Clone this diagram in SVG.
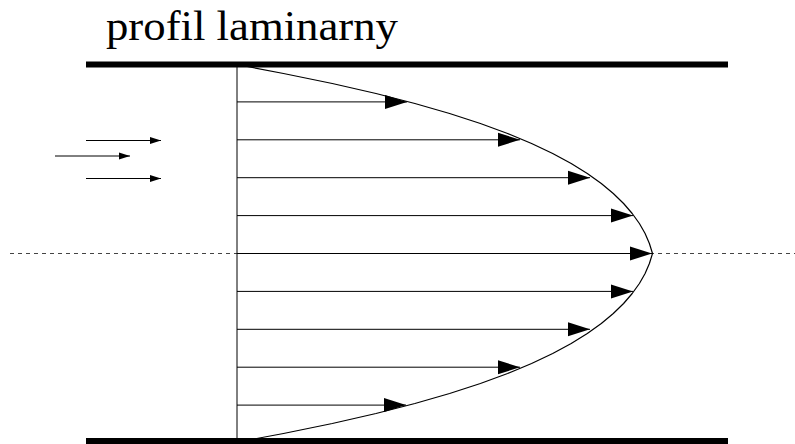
<svg xmlns="http://www.w3.org/2000/svg" width="795" height="444" viewBox="0 0 795 444">
<style>
.title{font-family:"Liberation Serif","DejaVu Serif",serif;font-size:43px;fill:#000}
.wall{fill:#000}
.vec{stroke:#000;stroke-width:1;fill:none;marker-end:url(#big)}
.inflow{stroke:#000;stroke-width:1;fill:none;marker-end:url(#small)}
.axis{stroke:#444;stroke-width:1;stroke-dasharray:4 4;fill:none}
.profile{stroke:#000;stroke-width:1.2;fill:none;stroke-linejoin:round}
.base{stroke:#000;stroke-width:1;fill:none}
</style>
<defs>
<marker id="big" markerUnits="userSpaceOnUse" markerWidth="22" markerHeight="14" refX="22" refY="7" orient="auto" overflow="visible">
<path d="M0,0 L22,7 L0,14 Z" fill="#000"/>
</marker>
<marker id="small" markerUnits="userSpaceOnUse" markerWidth="11" markerHeight="7" refX="11" refY="3.5" orient="auto" overflow="visible">
<path d="M0,0 L11,3.5 L0,7 Z" fill="#000"/>
</marker>
</defs>
<g id="title"><text class="title" x="106" y="40" textLength="292" lengthAdjust="spacingAndGlyphs">profil laminarny</text></g>
<g id="walls">
<rect class="wall" x="86" y="61.5" width="642" height="6"/>
<rect class="wall" x="86" y="438" width="642" height="6"/>
</g>
<g id="axis"><line class="axis" x1="10" y1="253.5" x2="795" y2="253.5"/></g>
<g id="inflow">
<line class="inflow" x1="86" y1="140.5" x2="161" y2="140.5"/>
<line class="inflow" x1="55" y1="156" x2="130" y2="156"/>
<line class="inflow" x1="86" y1="178.5" x2="161" y2="178.5"/>
</g>
<g id="profile-base"><line class="base" x1="237" y1="67" x2="237" y2="438"/></g>
<g id="profile-curve">
<path class="profile" d="M237,64.5 L283.5,73.5 L332.3,83.5 L376,93.5 L414.9,103.5 L449.6,113.5 L480.4,123.5 L507.6,133.5 L531.6,143.5 L552.7,153.5 L571.2,163.5 L587.3,173.5 L601.3,183.5 L613.3,193.5 L623.6,203.5 L632.2,213.5 L639.4,223.5 L645.1,233.5 L649.4,243.5 L652.5,253.5 L649.4,263.5 L645.1,273.5 L639.4,283.5 L632.2,293.5 L623.6,303.5 L613.3,313.5 L601.3,323.5 L587.3,333.5 L571.2,343.5 L552.7,353.5 L531.6,363.5 L507.6,373.5 L480.4,383.5 L449.6,393.5 L414.9,403.5 L376,413.5 L332.3,423.5 L283.5,433.5 L243.3,441"/>
</g>
<g id="connectors">
<line class="vec" x1="237" y1="101.9" x2="407" y2="101.9"/>
<line class="vec" x1="237" y1="139.8" x2="520" y2="139.8"/>
<line class="vec" x1="237" y1="177.7" x2="590" y2="177.7"/>
<line class="vec" x1="237" y1="215.6" x2="633" y2="215.6"/>
<line class="vec" x1="237" y1="253.5" x2="652" y2="253.5"/>
<line class="vec" x1="237" y1="291.4" x2="633" y2="291.4"/>
<line class="vec" x1="237" y1="329.3" x2="590" y2="329.3"/>
<line class="vec" x1="237" y1="367.2" x2="520" y2="367.2"/>
<line class="vec" x1="237" y1="405.1" x2="406" y2="405.1"/>
</g>
</svg>
